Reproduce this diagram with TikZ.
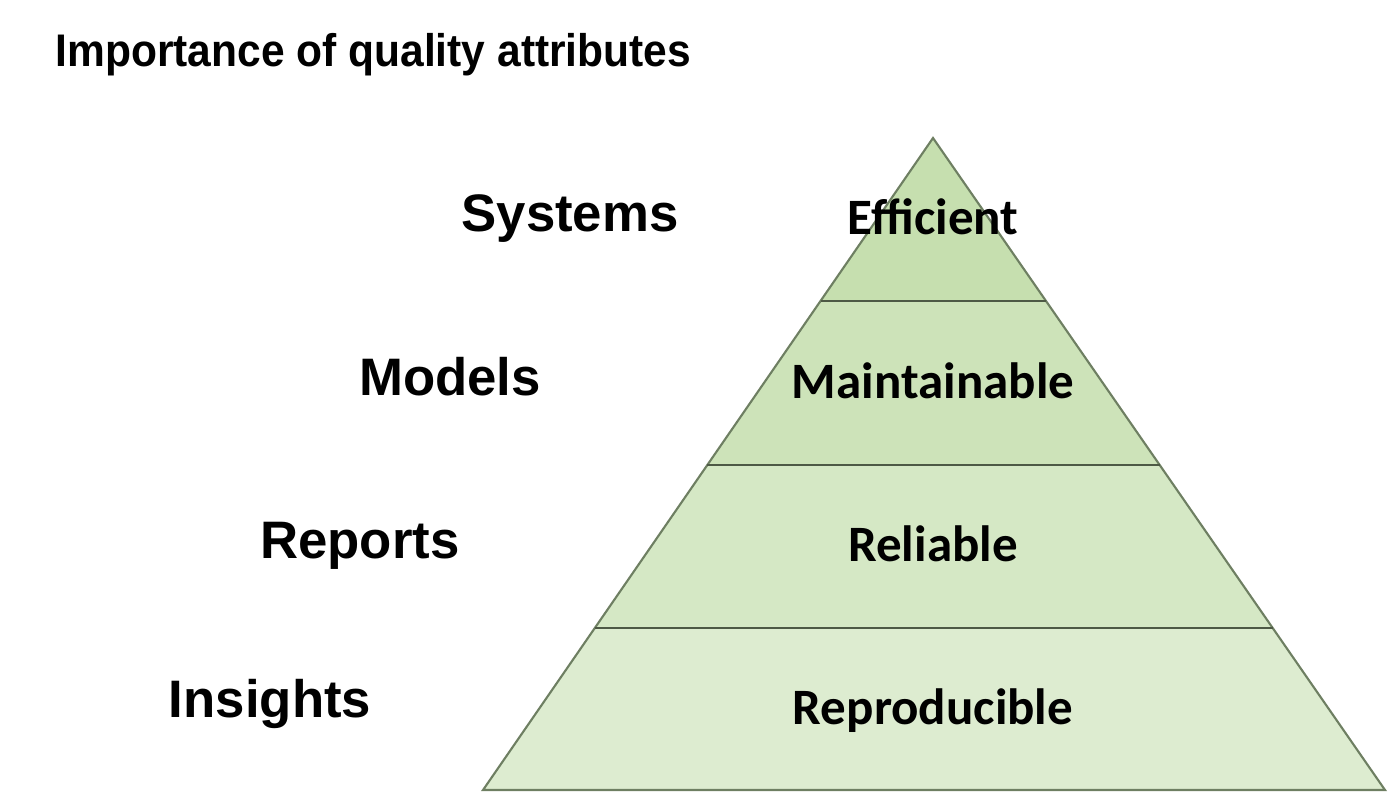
\documentclass[tikz,border=0pt]{standalone}
\usepackage{fontspec}
\setmainfont{Liberation Sans}
\newfontfamily\layerfont{Carlito}
\definecolor{tierA}{HTML}{C6DFAF}
\definecolor{tierB}{HTML}{CDE3B9}
\definecolor{tierC}{HTML}{D5E8C5}
\definecolor{tierD}{HTML}{DDECD0}
\definecolor{edgegreen}{HTML}{6E7F62}
\begin{document}
\begin{tikzpicture}[x=0.01cm,y=-0.01cm,
		tier/.style={anchor=base,inner sep=0pt,font=\bfseries\fontsize{15}{18}\selectfont},
		attr/.style={anchor=base,inner sep=0pt,font=\layerfont\bfseries\fontsize{14.5}{17}\selectfont}]
	\useasboundingbox (0,0) rectangle (1400,799);
	% pyramid corners and dividers
	\coordinate (apex) at (933,138);
	\coordinate (l1) at (820.5,301);  \coordinate (r1) at (1046,301);
	\coordinate (l2) at (707.3,465);  \coordinate (r2) at (1159.7,465);
	\coordinate (l3) at (594.8,628);  \coordinate (r3) at (1272.7,628);
	\coordinate (l4) at (483,790);    \coordinate (r4) at (1385,790);
	\fill[tierA] (apex) -- (r1) -- (l1) -- cycle;
	\fill[tierB] (l1) -- (r1) -- (r2) -- (l2) -- cycle;
	\fill[tierC] (l2) -- (r2) -- (r3) -- (l3) -- cycle;
	\fill[tierD] (l3) -- (r3) -- (r4) -- (l4) -- cycle;
	\draw[edgegreen,line width=0.6pt] (apex) -- (r4) -- (l4) -- cycle;
	\foreach\i in {1,2,3} {
		\draw[edgegreen!70!black,line width=0.6pt] (l\i) -- (r\i);
	}
	% title
	\node[anchor=base west,inner sep=0pt,xscale=0.93,font=\bfseries\fontsize{13}{16}\selectfont] (title) at (55,66) {Importance of quality attributes};
	% left-hand tiers
	\node[tier] (systems) at (570,231) {Systems};
	\node[tier] (models) at (450,395) {Models};
	\node[tier] (reports) at (360,558) {Reports};
	\node[tier] (insights) at (270,717) {Insights};
	% attributes inside the pyramid
	\node[attr] (efficient) at (933,234) {Efficient};
	\node[attr] (maintainable) at (933,398) {Maintainable};
	\node[attr] (reliable) at (933,561) {Reliable};
	\node[attr] (reproducible) at (933,724) {Reproducible};
\end{tikzpicture}
\end{document}
